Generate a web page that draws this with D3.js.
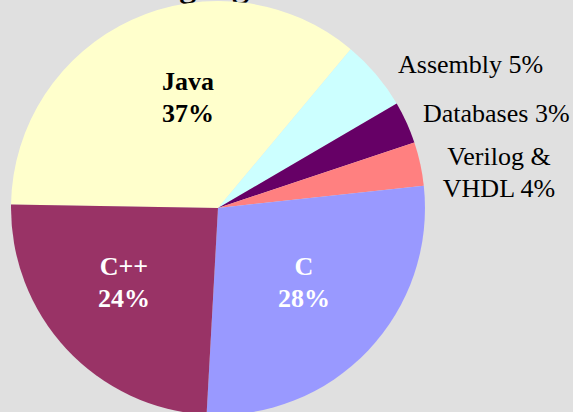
<!DOCTYPE html>
<html>
<head>
    <title>Languages pie</title>
    <script src="https://d3js.org/d3.v7.min.js"></script>
    <style>
        body { margin: 0; background: #e0e0e0; }
        svg { display: block; font-family: "Liberation Serif", "Times New Roman", serif; }
    </style>
</head>
<body>
    <svg width="573" height="412"></svg>

    <script>
    // slice shares (clockwise, starting at 9 o'clock)
    const languages = ["Java", "Assembly", "Databases", "Verilog & VHDL", "C", "C++"];
    const shares = [35.8, 5.5, 3.3, 3.4, 27.6, 24.4];
    const pctLabels = ["37%", "5%", "3%", "4%", "28%", "24%"];
    const colors = ["#ffffcc", "#ccffff", "#660066", "#ff8080", "#9999ff", "#993366"];

    const width = 573, height = 412;
    const cx = 218, cy = 208, radius = 207;
    const svg = d3.select("svg");

    svg.append("rect")
        .attr("width", width)
        .attr("height", height)
        .attr("fill", "#e0e0e0");

    // title sits mostly above the frame, only the descenders show
    svg.append("text")
        .attr("x", 199)
        .attr("y", -3)
        .attr("text-anchor", "middle")
        .style("font-size", "34px")
        .style("font-weight", "bold")
        .text("Languages");

    const start = -89 * Math.PI / 180;
    const pie = d3.pie()
        .sort(null)
        .startAngle(start)
        .endAngle(start + 2 * Math.PI)
        .value(d => d.value);

    const arc = d3.arc().innerRadius(0).outerRadius(radius);

    const data = languages.map((name, i) => ({ name: name, value: shares[i], pct: pctLabels[i], color: colors[i] }));

    const g = svg.append("g").attr("transform", `translate(${cx},${cy})`);

    g.selectAll("path")
        .data(pie(data))
        .enter().append("path")
        .attr("d", arc)
        .attr("fill", d => d.data.color);

    // label layout: inside labels bold, outside labels plain
    const layout = {
        "Java":           { x: 188, y: 90,  anchor: "middle", inside: true,  fill: "#000" },
        "C++":            { x: 124, y: 275, anchor: "middle", inside: true,  fill: "#fff" },
        "C":              { x: 304, y: 275, anchor: "middle", inside: true,  fill: "#fff" },
        "Assembly":       { x: 398, y: 73,  anchor: "start",  inside: false, fill: "#000" },
        "Databases":      { x: 423, y: 122, anchor: "start",  inside: false, fill: "#000" },
        "Verilog & VHDL": { x: 499, y: 165, anchor: "middle", inside: false, fill: "#000" }
    };

    data.forEach(d => {
        const p = layout[d.name];
        const t = svg.append("text")
            .attr("x", p.x)
            .attr("y", p.y)
            .attr("text-anchor", p.anchor)
            .attr("fill", p.fill)
            .style("font-size", "26px");
        if (p.inside) {
            t.style("font-weight", "bold");
            t.append("tspan").attr("x", p.x).text(d.name);
            t.append("tspan").attr("x", p.x).attr("dy", 32).text(d.pct);
        } else if (d.name === "Verilog & VHDL") {
            t.append("tspan").attr("x", p.x).text("Verilog &");
            t.append("tspan").attr("x", p.x).attr("dy", 32).text("VHDL " + d.pct);
        } else {
            t.text(d.name + " " + d.pct);
        }
    });
    </script>
</body>
</html>
